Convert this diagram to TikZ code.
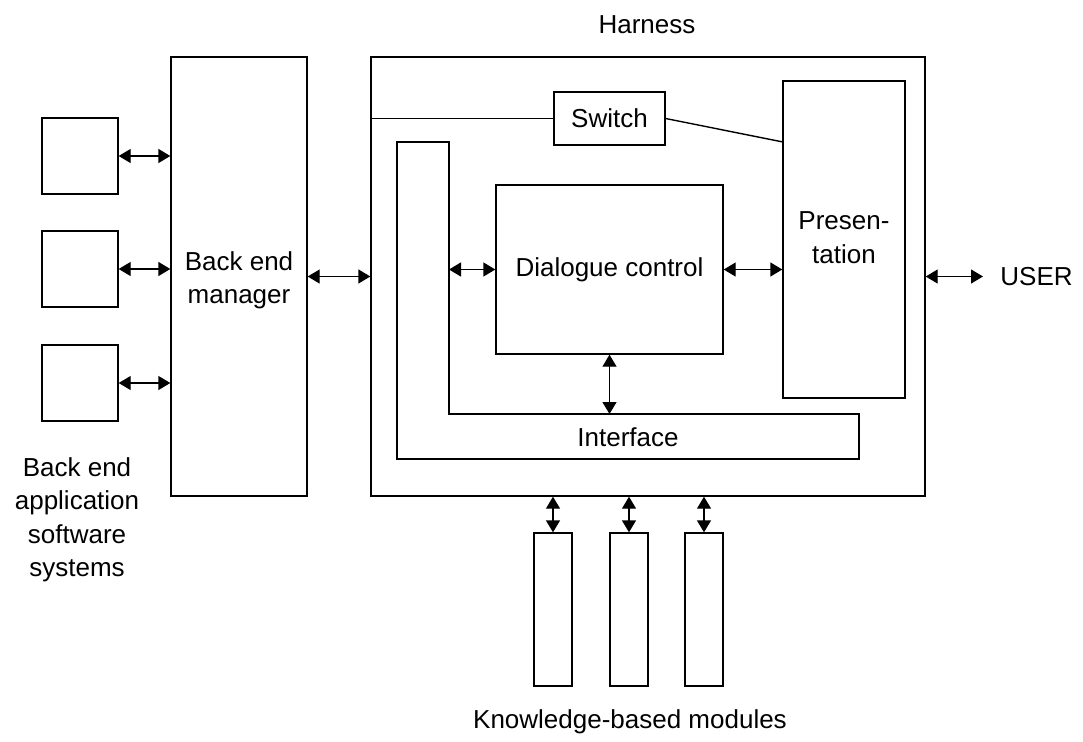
\documentclass[tikz,border=0pt]{standalone}
\usepackage{fontspec}
\setmainfont{Liberation Sans}
\usetikzlibrary{fit,arrows.meta}
\begin{document}
\begin{tikzpicture}[x=0.5pt,y=-0.5pt,
  every node/.style={font=\fontsize{13}{16.75}\selectfont},
  box/.style={draw, line width=0.7pt, inner sep=0pt},
  conn/.style={line width=0.7pt, {Triangle[length=6pt,width=7pt]}-{Triangle[length=6pt,width=7pt]}},
  plain/.style={line width=0.7pt},
  lbl/.style={align=center, inner sep=0pt}]
\useasboundingbox (0,0) rectangle (1083,741);
% left application boxes
\node[box, fit={(42,118) (118,194)}] (app1) {};
\node[box, fit={(42,231) (118,307)}] (app2) {};
\node[box, fit={(42,345) (118,421)}] (app3) {};
\node[lbl] (applbl) at (77,520) {Back end\\application\\software\\systems};
% back end manager
\node[box, fit={(171,57) (307,496)}] (bem) {};
\node[lbl] (bemlbl) at ([yshift=-2pt]bem.center) {Back end\\manager};
% harness
\node[box, fit={(371,57) (925,496)}] (harness) {};
\node[lbl] (harnesslbl) at (647,25) {Harness};
% switch
\node[box, fit={(554,92) (665,145)}] (switch) {};
\node[lbl] (switchlbl) at (switch.center) {Switch};
% presentation
\node[box, fit={(783,81) (905,398)}] (pres) {};
\node[lbl] (preslbl) at ([yshift=1pt]pres.center) {Presen-\\tation};
\coordinate (sp) at (783,142);
% dialogue control
\node[box, fit={(496,185) (723,354)}] (dlg) {};
\node[lbl] (dlglbl) at (dlg.center) {Dialogue control};
% interface L-shape
\coordinate (ifa) at (397,142);
\coordinate (ifb) at (449,142);
\coordinate (ifin) at (449,414);
\coordinate (ifc) at (859,414);
\coordinate (ifd) at (859,459);
\coordinate (ife) at (397,459);
\draw[plain] (ifa) -- (ifb) -- (ifin) -- (ifc) -- (ifd) -- (ife) -- cycle;
\node[lbl] (iflbl) at (628,437) {Interface};
% knowledge-based modules
\node[box, fit={(534,533) (572,686)}] (kb1) {};
\node[box, fit={(610,533) (648,686)}] (kb2) {};
\node[box, fit={(685,533) (723,686)}] (kb3) {};
\node[lbl] (kblbl) at (630,722) {Knowledge-based modules};
% user
\node[anchor=west, inner xsep=8.5pt, inner ysep=0pt] (user) at (983,276.5) {USER};
% connectors
\draw[conn] (app1.east) -- (app1.east -| bem.west);
\draw[conn] (app2.east) -- (app2.east -| bem.west);
\draw[conn] (app3.east) -- (app3.east -| bem.west);
\draw[conn] (bem.east) -- (bem.east -| harness.west);
\draw[conn] (ifin |- dlg.west) -- (dlg.west);
\draw[conn] (dlg.east) -- (dlg.east -| pres.west);
\draw[conn] (dlg.south) -- (dlg.south |- ifin);
\draw[conn] (harness.east) -- (user.west);
\draw[conn] (kb1.north |- harness.south) -- (kb1.north);
\draw[conn] (kb2.north |- harness.south) -- (kb2.north);
\draw[conn] (kb3.north |- harness.south) -- (kb3.north);
\draw[plain] (harness.west |- switch.west) -- (switch.west);
\draw[plain] (switch.east) -- (sp);
\end{tikzpicture}
\end{document}
